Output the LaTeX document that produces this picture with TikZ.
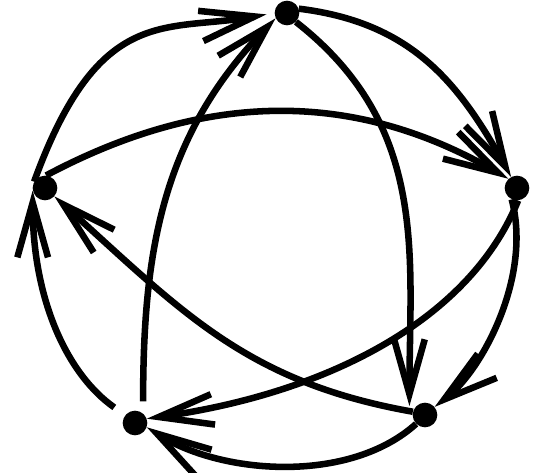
\documentclass[tikz,border=0pt]{standalone}
\usetikzlibrary{arrows.meta}
\begin{document}
\begin{tikzpicture}[x=0.75pt,y=0.75pt,
    dot/.style={circle,fill=black,inner sep=0pt,minimum size=18.5pt},
    edge/.style={line width=4.9pt,-{Straight Barb[length=41pt,width=23pt]}}]
  \useasboundingbox (0,0) rectangle (533,473);
  % vertices
  \foreach \n/\x/\y in {T/287/460, R/517/285, BR/425/58, BL/135/50, L/45/285}{
    \node[dot] (\n) at (\x,\y) {};
  }
  % outer cycle
  \draw[edge,shorten >=6pt] (L.150) .. controls +(70:190) and +(190:110) .. (T.west);
  \draw[edge] (T.20) to[out=-7,in=119,looseness=1.05] (R.118);
  \draw[edge] (R.-115) .. controls +(-75:80) and +(38:60) .. (BR.40);
  \draw[edge] (BR.-135) to[out=-138,in=-32,looseness=0.85] (BL.-20);
  \draw[edge,shorten <=10pt] (BL.141) .. controls +(145:70) and +(-90:110) .. (L.192);
  % inner star
  \draw[edge,shorten <=9pt] (BL.50) to[out=90,in=226] (T.205);
  \draw[edge] (T.-45) .. controls +(-38:170) and +(90:150) .. ([xshift=-5pt]BR.135);
  \draw[edge] (BR.165) .. controls +(170:170) and +(-42:170) .. (L.-42);
  \draw[edge] (L.85) .. controls +(28:190) and +(150:170) .. (R.133);
  \draw[edge] (R.-85) .. controls +(-112:130) and +(8:180) .. (BL.20);
\end{tikzpicture}
\end{document}
